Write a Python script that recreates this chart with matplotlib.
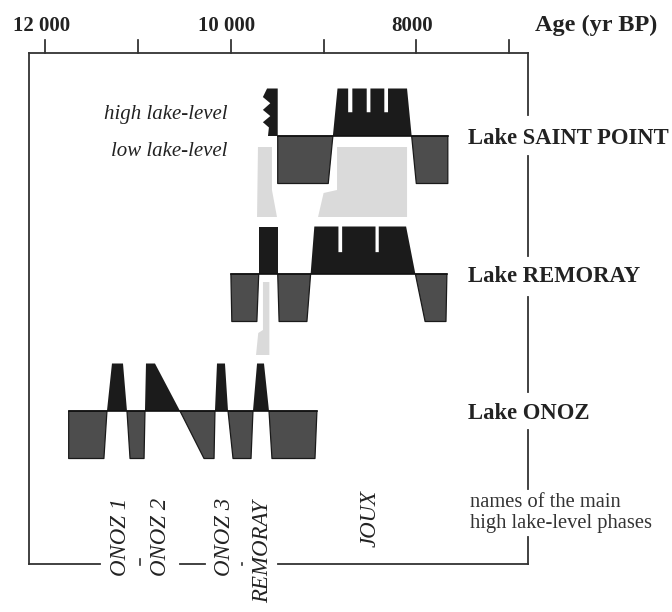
import matplotlib
matplotlib.use("Agg")
import matplotlib.pyplot as plt

plt.rcParams['font.family'] = ['Liberation Serif', 'DejaVu Serif']

# level curves: age (yr BP) and lake level (+1 high, -1 low)
sp_ages = [9495, 9495, 8950, 8900, 8850, 8735, 8735, 8690, 8690, 8535, 8535, 8495,
           8495, 8345, 8345, 8305, 8305, 8100, 8050, 8000, 7660, 7660]
sp_level = [0, -1, -1, 0, 1, 1, 0.5, 0.5, 1, 1, 0.5, 0.5,
            1, 1, 0.5, 0.5, 1, 1, 0, -1, -1, 0]
# open-ended (jagged) start of the Saint Point high phase
sp_jag_ages = [9495, 9495, 9610, 9655, 9575, 9655, 9575, 9655, 9590, 9600]
sp_jag_level = [0, 1, 1, 0.82, 0.69, 0.55, 0.42, 0.29, 0.18, 0]

rem_ages = [10000, 9990, 9720, 9700, 9700, 9495, 9495, 9480, 9180, 9140, 9100,
            8840, 8840, 8800, 8800, 8440, 8440, 8405, 8405, 8110, 8010, 7905, 7680, 7670]
rem_level = [0, -1, -1, 0, 1, 1, 0, -1, -1, 0, 1,
             1, 0.46, 0.46, 1, 1, 0.46, 0.46, 1, 1, 0, -1, -1, 0]

onoz_ages = [11750, 11750, 11370, 11337, 11283, 11164, 11121, 11088, 10937, 10927, 10916,
             10819, 10549, 10290, 10182, 10172, 10150, 10064, 10031, 9977, 9783, 9762,
             9718, 9643, 9589, 9557, 9093, 9072]
onoz_level = [0, -1, -1, 0, 1, 1, 0, -1, -1, 0, 1,
              1, 0, -1, -1, 0, 1, 1, 0, -1, -1, 0,
              1, 1, 0, -1, -1, 0]

# correlation shading between records (age, row position)
corr_a_ages = [9708, 9557, 9557, 9503, 9718]
corr_a_rows = [147, 147, 190, 217, 217]
corr_b_ages = [8855, 8100, 8100, 9060, 9000, 8855]
corr_b_rows = [147, 147, 217, 217, 193, 190]
corr_c_ages = [9654, 9585, 9585, 9729, 9705, 9654]
corr_c_rows = [282, 282, 355, 355, 333, 330]

tick_ages = [12000, 11000, 10000, 9000, 8000, 7000]
tick_labels = {12000: '12 000', 10000: '10 000', 8000: '8000'}

lakes = [('Lake SAINT POINT', sp_ages, sp_level, 136),
         ('Lake REMORAY', rem_ages, rem_level, 274),
         ('Lake ONOZ', onoz_ages, onoz_level, 411)]

phase_names = ['ONOZ 1', 'ONOZ 2', 'ONOZ 3', 'REMORAY', 'JOUX']
phase_x = [121, 160, 225, 263, 370]
phase_top = [498, 498, 498, 500, 490]

AMP = 47.5
BLACK = '#1b1b1b'
DARK = '#4d4d4d'
LIGHT = '#dadada'
INK = '#222222'

fig = plt.figure(figsize=(6.72, 6.12), dpi=100)
ax = fig.add_axes([0, 0, 1, 1])
ax.set_xlim(12000 + 45.5 / 0.0927, 12000 - (672 - 45.5) / 0.0927)
ax.set_ylim(612, 0)
ax.axis('off')

# overlay in pixel units for the frame and side texts
px = fig.add_axes([0, 0, 1, 1], sharey=ax)
px.set_xlim(0, 672)
px.axis('off')

for a, r in [(corr_a_ages, corr_a_rows), (corr_b_ages, corr_b_rows), (corr_c_ages, corr_c_rows)]:
    ax.fill(a, r, color=LIGHT, lw=0, zorder=1)

for name, ages, lev, base in lakes:
    y = [base - v * AMP for v in lev]
    ax.fill_between(ages, base, y, where=[v >= 0 for v in lev], interpolate=True,
                    facecolor=BLACK, lw=0, zorder=2)
    ax.fill_between(ages, base, y, where=[v <= 0 for v in lev], interpolate=True,
                    facecolor=DARK, edgecolor='#1a1a1a', lw=0.9, zorder=2)
    ax.plot([ages[0], ages[-1]], [base, base], color='#111111', lw=1.2, zorder=3)
    px.text(468, base + 8, name, fontsize=16.3, fontweight='bold', color=INK,
            ha='left', va='baseline')

ax.fill(sp_jag_ages, [136 - v * AMP for v in sp_jag_level], color=BLACK, lw=0, zorder=2)

px.text(227, 115, 'high lake-level', fontsize=15, style='italic', color=INK,
        ha='right', va='center')
px.text(227, 152, 'low lake-level', fontsize=15, style='italic', color=INK,
        ha='right', va='center')

# top age axis
for t in tick_ages:
    ax.plot([t, t], [40, 53], color=INK, lw=1.2)
    if t in tick_labels:
        ax.text(t + 45, 31, tick_labels[t], fontsize=15, fontweight='bold', color=INK,
                ha='center', va='baseline')
px.text(535, 31, 'Age (yr BP)', fontsize=17.5, fontweight='bold', color=INK,
        ha='left', va='baseline')

# frame
lc = '#333333'
px.plot([29, 528], [53, 53], color=lc, lw=1.3)
px.plot([29, 29], [53, 564], color=lc, lw=1.3)
for y0, y1 in [(53, 115), (156, 256), (297, 392), (430, 489), (537, 564)]:
    px.plot([528, 528], [y0, y1], color=lc, lw=1.3)
for x0, x1 in [(29, 100), (180, 205), (278, 528)]:
    px.plot([x0, x1], [564, 564], color=lc, lw=1.3)
px.plot([140, 140], [559, 565], color=lc, lw=1.2)
px.plot([242, 242], [563, 565], color=lc, lw=1.2)

for n, x, t in zip(phase_names, phase_x, phase_top):
    px.text(x, t, n, fontsize=16.5, style='italic', color=INK, rotation=90,
            ha='center', va='top')

px.text(470, 513, 'names of the main\nhigh lake-level phases', fontsize=14.8,
        color='#333333', ha='left', va='center', linespacing=1.12)

fig.savefig('out.png', dpi=100)
